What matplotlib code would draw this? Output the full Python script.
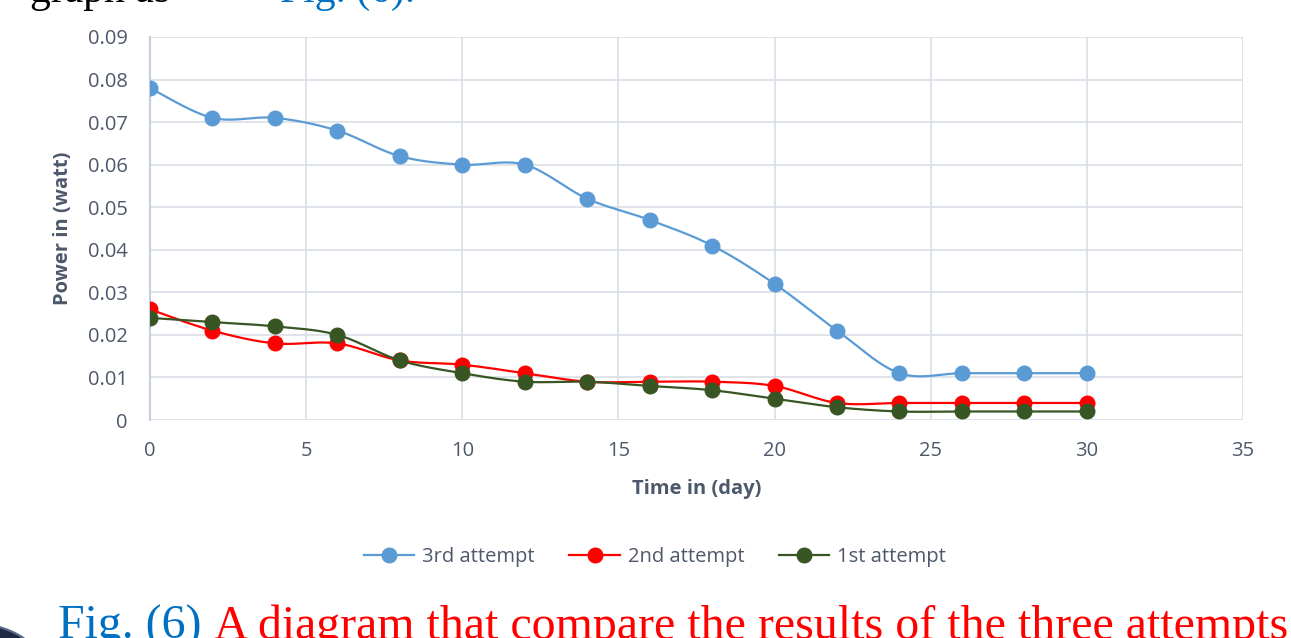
import numpy as np
import matplotlib
matplotlib.use("Agg")
import matplotlib.pyplot as plt
from matplotlib.patches import Circle

# Measured output power over the test period
days = [0, 2, 4, 6, 8, 10, 12, 14, 16, 18, 20, 22, 24, 26, 28, 30]
attempt_3 = [0.078, 0.071, 0.071, 0.068, 0.062, 0.060, 0.060, 0.052,
             0.047, 0.041, 0.032, 0.021, 0.011, 0.011, 0.011, 0.011]
attempt_2 = [0.026, 0.021, 0.018, 0.018, 0.014, 0.013, 0.011, 0.009,
             0.009, 0.009, 0.008, 0.004, 0.004, 0.004, 0.004, 0.004]
attempt_1 = [0.024, 0.023, 0.022, 0.020, 0.014, 0.011, 0.009, 0.009,
             0.008, 0.007, 0.005, 0.003, 0.002, 0.002, 0.002, 0.002]

series_names = ["3rd attempt", "2nd attempt", "1st attempt"]
series_colors = ["#5B9BD5", "#FF0000", "#375623"]

x_ticks = [0, 5, 10, 15, 20, 25, 30, 35]
y_ticks = [0, 0.01, 0.02, 0.03, 0.04, 0.05, 0.06, 0.07, 0.08, 0.09]
y_tick_labels = ["0", "0.01", "0.02", "0.03", "0.04", "0.05", "0.06",
                 "0.07", "0.08", "0.09"]

TEXT_GREY = "#4D586B"
GRID = "#D9DEE6"
FONT = ["Open Sans", "DejaVu Sans"]
FS = 14.5


def smooth_curve(x, y, steps=30):
    """Bezier smoothing through every point (spreadsheet-style smoothed line)."""
    p = np.column_stack([x, y]).astype(float)
    n = len(p)
    out = []
    for i in range(n - 1):
        p0 = p[i - 1] if i > 0 else p[i]
        p1 = p[i]
        p2 = p[i + 1]
        p3 = p[i + 2] if i + 2 < n else p[i + 1]
        c1 = p1 + (p2 - p0) / 6.0
        c2 = p2 - (p3 - p1) / 6.0
        t = np.linspace(0, 1, steps, endpoint=(i == n - 2))[:, None]
        seg = ((1 - t) ** 3) * p1 + 3 * ((1 - t) ** 2) * t * c1 \
            + 3 * (1 - t) * (t ** 2) * c2 + (t ** 3) * p2
        out.append(seg)
    out = np.vstack(out)
    return out[:, 0], out[:, 1]


fig = plt.figure(figsize=(12.91, 6.38), dpi=100)
fig.patch.set_facecolor("white")

W, H = 1291, 638
ax = fig.add_axes([150 / W, (H - 420) / H, (1243 - 150) / W, (420 - 37) / H])

for values, name, color in zip([attempt_3, attempt_2, attempt_1],
                               series_names, series_colors):
    sx, sy = smooth_curve(days, values)
    ax.plot(sx, sy, color=color, lw=1.6, zorder=3, solid_capstyle="round")
    ax.plot(days, values, linestyle="none", marker="o", markersize=10.5,
            color=color, markeredgecolor=color, zorder=4)

ax.set_xlim(0, 35)
ax.set_ylim(0, 0.09)
ax.set_xticks(x_ticks)
ax.set_yticks(y_ticks)
ax.set_yticklabels(y_tick_labels)
ax.grid(True, color=GRID, lw=1.2, zorder=0)
ax.set_axisbelow(True)
for side in ["top", "right", "bottom"]:
    ax.spines[side].set_visible(False)
ax.spines["left"].set_color("#C5CEDC")
ax.spines["left"].set_linewidth(1.5)
ax.tick_params(length=0, labelsize=FS, labelcolor=TEXT_GREY)
ax.tick_params(axis="y", pad=16)
ax.tick_params(axis="x", pad=15)
for lab in ax.get_xticklabels() + ax.get_yticklabels():
    lab.set_family(FONT)

ax.set_xlabel("Time in (day)", fontsize=FS, fontweight="bold",
              color=TEXT_GREY, family=FONT, va="center")
ax.set_ylabel("Power in (watt)", fontsize=FS, fontweight="bold",
              color=TEXT_GREY, family=FONT, va="center")
ax.xaxis.set_label_coords(0.5, (420 - 489) / 383)
ax.yaxis.set_label_coords((63 - 150) / 1093, (420 - 228) / 383)

handles = [plt.Line2D([], [], color=c, lw=1.6, marker="o", markersize=10.5)
           for c in series_colors]
leg = fig.legend(handles, series_names, loc="center",
                 bbox_to_anchor=(655 / W, 1 - 557 / H), ncol=3,
                 frameon=False, handlelength=2.5, columnspacing=1.7,
                 handletextpad=0.4,
                 prop={"family": FONT, "size": FS})
for t in leg.get_texts():
    t.set_color(TEXT_GREY)

# Surrounding document text (justified paragraph line above, caption below)
serif = ["Liberation Serif", "DejaVu Serif"]
fig.text(30 / W, 1 - 2 / H, "graph as", fontsize=30, family=serif,
         color="black", va="baseline", ha="left")
fig.text(280 / W, 1 - 2 / H, "Fig. (6).", fontsize=30, family=serif,
         color="#0070C0", va="baseline", ha="left")

c1 = fig.text(58 / W, 1 - 639 / H, "Fig. (6) ", fontsize=34.5, family=serif,
              color="#0070C0", va="baseline", ha="left")
fig.canvas.draw()
bb = c1.get_window_extent()
fig.text(bb.x1 / W, 1 - 639 / H,
         "A diagram that compare the results of the three attempts",
         fontsize=34.5, family=serif, color="#FF0000", va="baseline",
         ha="left")

fig.patches.append(Circle((-40 / W, 1 - 660 / H), 0.06,
                          transform=fig.transFigure, facecolor="#1F2B44",
                          edgecolor="#5A6A8A", lw=1.5))

fig.savefig("out.png", dpi=100)
